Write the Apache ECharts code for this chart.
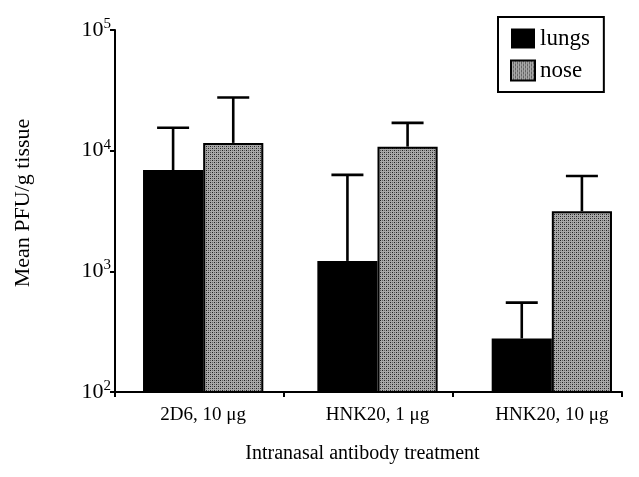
<!DOCTYPE html>
<html><head><meta charset="utf-8">
<script src="https://cdn.jsdelivr.net/npm/echarts@6/dist/echarts.min.js"></script>
<style>html,body{margin:0;padding:0;background:#fff}#c{width:639px;height:477px}</style>
</head><body><div id="c"></div>
<script>
const categories = ['2D6, 10 μg', 'HNK20, 1 μg', 'HNK20, 10 μg'];
const lungs = [6900, 1220, 278];
const lungsErrTop = [15500, 6300, 550];
const nose = [11600, 10800, 3150];
const noseErrTop = [27600, 17000, 6170];
const seriesNames = ['lungs', 'nose'];
const yTickExponents = [2, 3, 4, 5];

function makePattern() {
  const c = document.createElement('canvas');
  c.width = 4; c.height = 4;
  const g = c.getContext('2d');
  g.fillStyle = '#a8a8a8'; g.fillRect(0, 0, 4, 4);
  g.fillStyle = '#202020';
  g.fillRect(0, 0, 1, 1); g.fillRect(2, 2, 1, 1);
  g.fillStyle = '#606060';
  g.fillRect(2, 0, 1, 1); g.fillRect(0, 2, 1, 1);
  return c;
}
const pat = { image: makePattern(), repeat: 'repeat' };
const FONT = '"Liberation Serif", "DejaVu Serif", serif';
const CAT_GAP = 0.31;

function errSeries(name, tops, errTops, side) {
  return {
    type: 'custom', name: name + ' err', silent: true, z: 1,
    xAxisIndex: 1, yAxisIndex: 1,
    data: tops.map((v, i) => [i, v, errTops[i]]),
    renderItem: function (params, api) {
      const band = api.size([1, 0])[0];
      const bw = band * (1 - CAT_GAP) / 2;
      const base = api.coord([api.value(0), api.value(1)]);
      const top = api.coord([api.value(0), api.value(2)]);
      const x = base[0] + side * bw / 2;
      const cap = 16;
      const st = { stroke: '#000', lineWidth: 2.6 };
      return { type: 'group', children: [
        { type: 'line', shape: { x1: x, y1: base[1], x2: x, y2: top[1] }, style: st },
        { type: 'line', shape: { x1: x - cap, y1: top[1], x2: x + cap, y2: top[1] }, style: st }
      ]};
    }
  };
}

const chart = echarts.init(document.getElementById('c'));
chart.setOption({
  animation: false,
  backgroundColor: '#fff',
  textStyle: { fontFamily: FONT, color: '#000' },
  grid: [
    { left: 115, right: 17, top: 30, bottom: 85 },
    { left: 116, right: 0, top: 30, bottom: 85 }
  ],
  legend: {
    data: seriesNames, orient: 'vertical', left: 498, top: 17,
    itemWidth: 24, itemHeight: 20, itemGap: 9,
    padding: [10, 14, 10, 12], borderColor: '#000', borderWidth: 2,
    textStyle: { fontFamily: FONT, fontSize: 23, color: '#000' },
    icon: 'rect'
  },
  xAxis: [
    {
      type: 'category', data: categories, gridIndex: 0,
      name: 'Intranasal antibody treatment', nameLocation: 'middle', nameGap: 52,
      nameTextStyle: { fontFamily: FONT, fontSize: 20, color: '#000', padding: [0, 12, 0, 0] },
      axisLine: { lineStyle: { color: '#000', width: 2 } },
      axisTick: { show: true, length: 5, lineStyle: { color: '#000', width: 2 } },
      axisLabel: { show: false }
    },
    {
      type: 'category', data: categories, gridIndex: 1,
      axisLine: { show: false }, axisTick: { show: false },
      axisLabel: { fontFamily: FONT, fontSize: 19, color: '#000', margin: 14 }
    }
  ],
  yAxis: [
    {
      type: 'log', logBase: 10, min: 100, max: 100000, gridIndex: 0,
      name: 'Mean PFU/g tissue', nameLocation: 'middle', nameGap: 81,
      nameTextStyle: { fontFamily: FONT, fontSize: 22, color: '#000', padding: [0, 0, 0, 16] },
      axisLine: { show: true, lineStyle: { color: '#000', width: 2 } },
      axisTick: { show: true, length: 5, lineStyle: { color: '#000', width: 2 } },
      splitLine: { show: false },
      minorTick: { show: false },
      axisLabel: {
        margin: 4,
        formatter: function (v) {
          const e = Math.round(Math.log10(v));
          return yTickExponents.includes(e) ? '{b|10}{s|' + e + '}' : '';
        },
        rich: {
          b: { fontFamily: FONT, fontSize: 22, color: '#000' },
          s: { fontFamily: FONT, fontSize: 15, color: '#000', verticalAlign: 'top', padding: [0, 0, 12, 0] }
        }
      }
    },
    {
      type: 'log', logBase: 10, min: 100, max: 100000, gridIndex: 1, show: false
    }
  ],
  series: [
    { type: 'bar', name: 'lungs', data: lungs, xAxisIndex: 1, yAxisIndex: 1,
      barGap: '0%', barCategoryGap: (CAT_GAP * 100) + '%',
      itemStyle: { color: '#000' }, z: 2 },
    { type: 'bar', name: 'nose', data: nose, xAxisIndex: 1, yAxisIndex: 1,
      barGap: '0%', barCategoryGap: (CAT_GAP * 100) + '%',
      itemStyle: { color: pat, borderColor: '#000', borderWidth: 2 }, z: 2 },
    errSeries('lungs', lungs, lungsErrTop, -1),
    errSeries('nose', nose, noseErrTop, 1)
  ]
});
</script></body></html>
